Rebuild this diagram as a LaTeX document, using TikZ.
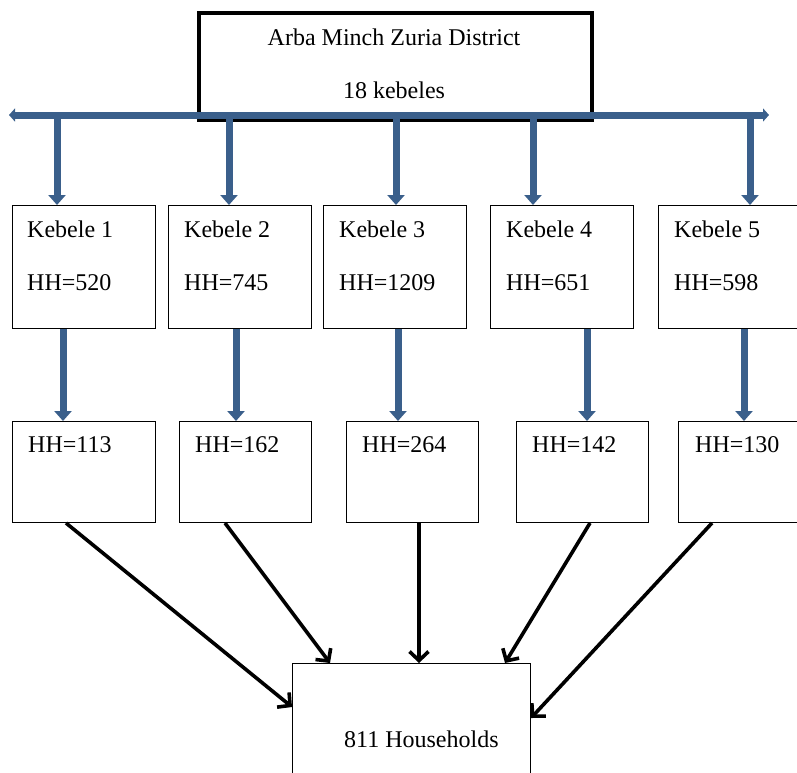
\documentclass[tikz,border=0pt]{standalone}
\usepackage{fontspec}
\setmainfont{Liberation Serif}
\usetikzlibrary{arrows.meta,calc}
\definecolor{bl}{RGB}{58,95,139}
\begin{document}
\begin{tikzpicture}[x=1pt,y=-1pt,
 box/.style={draw,line width=1pt,anchor=north west,inner sep=0,fill=white},
 lbl/.style={anchor=base west,inner sep=0,font=\fontsize{24}{28}\selectfont},
 barrow/.style={draw=bl,line width=7pt,-{Triangle[width=17pt,length=10pt]}},
 karrow/.style={draw=black,line width=3.6pt,-{Straight Barb[length=9pt,width=19pt]}}]
\useasboundingbox (0,0) rectangle (797,772);
% top box
\node[box,line width=3.5pt,minimum width=393pt,minimum height=107pt] (top) at (197,11) {};
\node[lbl,anchor=base] (tt1) at (394,45) {Arba Minch Zuria District};
\node[lbl,anchor=base] (tt2) at (394,98) {18 kebeles};
\coordinate (hl) at (9,115);
\coordinate (hr) at (769,115);
\draw[draw=bl,line width=7pt,{Triangle[width=13pt,length=6pt]}-{Triangle[width=13pt,length=6pt]}] (hl) -- (hr);
% kebele boxes
\node[box,minimum width=143pt,minimum height=123pt] (k1) at (12,205) {};
\node[box,minimum width=143pt,minimum height=123pt] (k2) at (168,205) {};
\node[box,minimum width=143pt,minimum height=123pt] (k3) at (323,205) {};
\node[box,minimum width=143pt,minimum height=123pt] (k4) at (490,205) {};
\node[box,minimum width=150pt,minimum height=123pt] (k5) at (658,205) {};
\node[lbl] (k1a) at (27,237) {Kebele 1};
\node[lbl] (k1b) at (27,290) {HH=520};
\node[lbl] (k2a) at (184,237) {Kebele 2};
\node[lbl] (k2b) at (184,290) {HH=745};
\node[lbl] (k3a) at (339,237) {Kebele 3};
\node[lbl] (k3b) at (339,290) {HH=1209};
\node[lbl] (k4a) at (506,237) {Kebele 4};
\node[lbl] (k4b) at (506,290) {HH=651};
\node[lbl] (k5a) at (674,237) {Kebele 5};
\node[lbl] (k5b) at (674,290) {HH=598};
% sample boxes
\node[box,minimum width=143pt,minimum height=101pt] (h1) at (12,421) {};
\node[box,minimum width=132pt,minimum height=101pt] (h2) at (179,421) {};
\node[box,minimum width=132pt,minimum height=101pt] (h3) at (346,421) {};
\node[box,minimum width=132pt,minimum height=101pt] (h4) at (516,421) {};
\node[box,minimum width=130pt,minimum height=101pt] (h5) at (678,421) {};
\node[lbl] (h1a) at (28,452) {HH=113};
\node[lbl] (h2a) at (195,452) {HH=162};
\node[lbl] (h3a) at (362,452) {HH=264};
\node[lbl] (h4a) at (532,452) {HH=142};
\node[lbl] (h5a) at (695,452) {HH=130};
% final box
\node[box,minimum width=238pt,minimum height=130pt] (fin) at (292,663) {};
\node[lbl] (fint) at (344,747) {811 Households};
% blue arrows line -> kebeles
\foreach \k/\dx in {k1/45,k2/61,k3/73,k4/43,k5/92}{
  \coordinate (\k t) at ($(\k.north west)+(\dx,0)$);
  \draw[barrow] (\k t |- hl) -- (\k t);
}
% blue arrows kebeles -> samples
\foreach \k/\h/\dx in {k1/h1/51,k2/h2/68,k3/h3/75,k4/h4/97,k5/h5/86}{
  \coordinate (\k b) at ($(\k.south west)+(\dx,0)$);
  \draw[barrow] (\k b) -- (\k b |- \h.north);
}
% black arrows
\coordinate (s1) at ($(h1.south west)+(54,0)$);
\coordinate (s2) at ($(h2.south west)+(46,0)$);
\coordinate (s3) at ($(h3.south west)+(73,0)$);
\coordinate (s4) at ($(h4.south west)+(74,0)$);
\coordinate (s5) at ($(h5.south west)+(34,0)$);
\coordinate (e1) at ($(fin.north west)+(0,44)$);
\coordinate (e2) at ($(fin.north west)+(38,0)$);
\coordinate (e3) at ($(fin.north west)+(127,0)$);
\coordinate (e4) at ($(fin.north west)+(213,0)$);
\coordinate (e5) at ($(fin.north east)+(0,55)$);
\draw[karrow] (s1) -- (e1);
\draw[karrow] (s2) -- (e2);
\draw[karrow] (s3) -- (e3);
\draw[karrow] (s4) -- (e4);
\draw[karrow] (s5) -- (e5);
\end{tikzpicture}
\end{document}
